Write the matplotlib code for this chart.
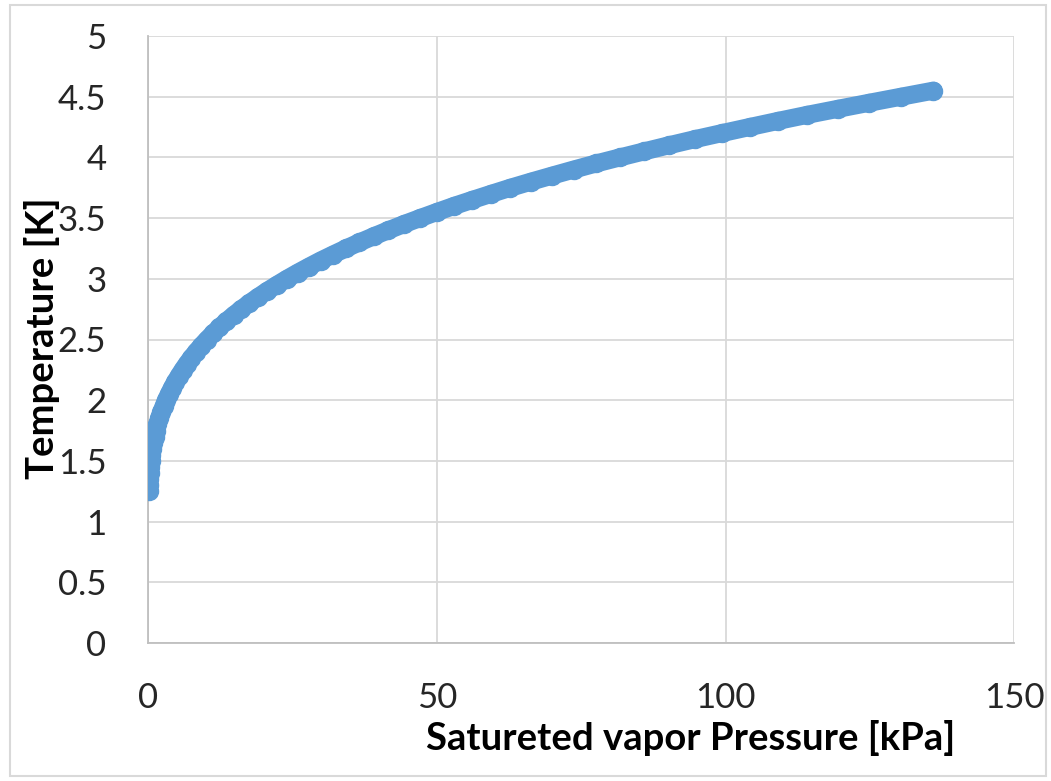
import matplotlib
matplotlib.use("Agg")
import matplotlib.pyplot as plt
from matplotlib.patches import Rectangle

# Saturated vapour pressure of liquid helium-4
temperature_K = [
    1.25, 1.30, 1.35, 1.40, 1.45, 1.50, 1.55, 1.60, 1.65, 1.70,
    1.75, 1.80, 1.85, 1.90, 1.95, 2.00, 2.05, 2.10, 2.15, 2.20,
    2.25, 2.30, 2.35, 2.40, 2.45, 2.50, 2.55, 2.60, 2.65, 2.70,
    2.75, 2.80, 2.85, 2.90, 2.95, 3.00, 3.05, 3.10, 3.15, 3.20,
    3.25, 3.30, 3.35, 3.40, 3.45, 3.50, 3.55, 3.60, 3.65, 3.70,
    3.75, 3.80, 3.85, 3.90, 3.95, 4.00, 4.05, 4.10, 4.15, 4.20,
    4.25, 4.30, 4.35, 4.40, 4.45, 4.50, 4.55,
]
pressure_kPa = [
    0.115, 0.158, 0.213, 0.282, 0.368, 0.472, 0.598, 0.747, 0.923, 1.131,
    1.367, 1.640, 1.953, 2.303, 2.693, 3.129, 3.610, 4.137, 4.713, 5.334,
    6.006, 6.731, 7.514, 8.358, 9.260, 10.23, 11.27, 12.38, 13.56, 14.81,
    16.15, 17.56, 19.06, 20.63, 22.31, 24.06, 25.91, 27.86, 29.87, 32.04,
    34.28, 36.60, 39.07, 41.62, 44.28, 47.10, 49.99, 52.97, 56.16, 59.42,
    62.75, 66.29, 69.97, 73.72, 77.59, 81.71, 85.93, 90.21, 94.66, 99.37,
    104.15, 109.03, 114.09, 119.44, 124.88, 130.41, 136.0,
]

x_ticks = [0, 50, 100, 150]
y_ticks = [0, 0.5, 1, 1.5, 2, 2.5, 3, 3.5, 4, 4.5, 5]
y_tick_labels = ["0", "0.5", "1", "1.5", "2", "2.5", "3", "3.5", "4", "4.5", "5"]

W, H = 1051, 781
fig = plt.figure(figsize=(W / 100, H / 100), dpi=100)
fig.patch.set_facecolor("white")

# chart-area border
fig.patches.append(Rectangle((10 / W, 1 - 776 / H), 1036 / W, 771 / H,
                             transform=fig.transFigure, fill=False,
                             edgecolor="#d9d9d9", linewidth=1.5))

ax = fig.add_axes([148 / W, 1 - 643 / H, 866.3 / W, 607 / H])

blue = "#5B9BD5"
ax.plot(pressure_kPa, temperature_K, color=blue, linewidth=13.0,
        solid_capstyle="round", solid_joinstyle="round", zorder=3)
ax.plot(pressure_kPa, temperature_K, linestyle="none", marker="o",
        markersize=13.0, markerfacecolor=blue, markeredgecolor=blue, zorder=4)

ax.set_xlim(0, 150)
ax.set_ylim(0, 5)
ax.set_xticks(x_ticks)
ax.set_yticks(y_ticks)
ax.set_yticklabels(y_tick_labels)

ax.grid(True, color="#d9d9d9", linewidth=1.3)
ax.set_axisbelow(True)
for side in ["top", "right"]:
    ax.spines[side].set_visible(False)
for side in ["left", "bottom"]:
    ax.spines[side].set_color("#bfbfbf")
    ax.spines[side].set_linewidth(1.3)

tick_font = dict(family=["Lato", "DejaVu Sans"], size=25)
ax.tick_params(axis="both", length=0, colors="#262626")
ax.tick_params(axis="y", pad=30)
ax.tick_params(axis="x", pad=28)
for lbl in ax.get_xticklabels() + ax.get_yticklabels():
    lbl.set_fontfamily(tick_font["family"])
    lbl.set_fontsize(tick_font["size"])
    lbl.set_color("#262626")

label_font = dict(family=["Lato", "DejaVu Sans"], size=27.5, weight="bold",
                  color="black")
ax.set_xlabel("Satureted vapor Pressure [kPa]", **label_font)
ax.set_ylabel("Temperature [K]", **label_font)
ax.xaxis.set_label_coords((691 - 148) / 866.3, (643 - 738) / 607)
ax.xaxis.label.set_verticalalignment("center")
ax.yaxis.set_label_coords((42 - 148) / 866.3, (643 - 338) / 607)
ax.yaxis.label.set_verticalalignment("center")

fig.savefig("out.png", dpi=100)
